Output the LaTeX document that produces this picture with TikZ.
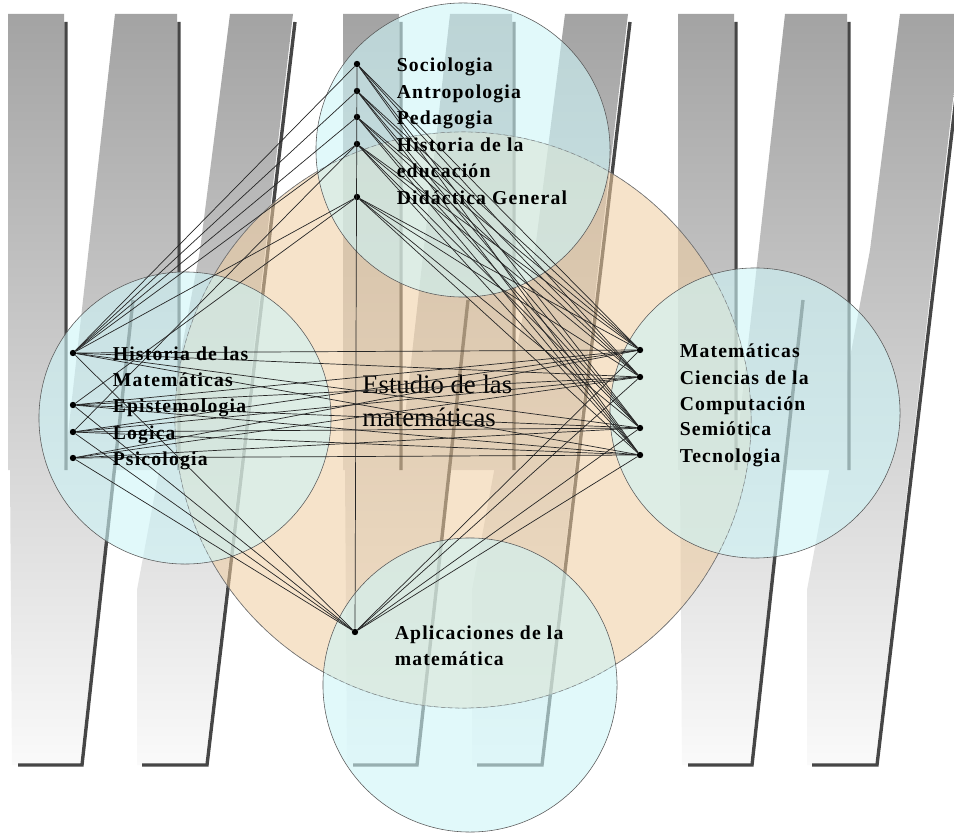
\documentclass[tikz,border=0pt]{standalone}
\usepackage{fontspec}
\setmainfont{Liberation Serif}
\newfontfamily\lblfont[LetterSpace=6]{Liberation Serif}
\usetikzlibrary{positioning}
\definecolor{peach}{RGB}{240,205,160}
\definecolor{aqua}{RGB}{205,245,248}
\definecolor{stripedark}{RGB}{70,70,70}
\tikzset{
  disc/.style={circle, draw=black!65, line width=0.4pt, fill=aqua, fill opacity=0.6, inner sep=0pt},
  dot/.style={circle, fill=black, inner sep=0pt, minimum size=0.16cm},
  lbl/.style={font=\lblfont\bfseries\fontsize{14pt}{18.5pt}\selectfont, inner sep=0pt, align=left, anchor=base west, yshift=-5pt},
  lbltwo/.style={lbl, yshift=-18.5pt},
  link/.style={line width=0.5pt, black!85},
  stripeline/.style={line width=2.4pt, stripedark, line join=miter}
}
\begin{document}
\begin{tikzpicture}[x=0.025cm, y=-0.025cm]
  \fill[white] (0,0) rectangle (954,833);
  \useasboundingbox (0,0) rectangle (954,833);
  \shade[top color=black!36, bottom color=black!2]
    (8,14) -- (64,14) -- (64,470) -- (8,470) -- cycle
    (115,14) -- (177,14) -- (177,470) -- (64,470) -- cycle
    (230,14) -- (293,14) -- (205,765) -- (137,765) -- (137,590) -- (200,250) -- cycle
    (10,470) -- (114,470) -- (80,765) -- (12,765) -- cycle
    (343,14) -- (399,14) -- (399,470) -- (343,470) -- cycle
    (450,14) -- (512,14) -- (512,470) -- (399,470) -- cycle
    (565,14) -- (628,14) -- (540,765) -- (472,765) -- (472,590) -- (535,250) -- cycle
    (345,470) -- (449,470) -- (415,765) -- (347,765) -- cycle
    (678,14) -- (734,14) -- (734,470) -- (678,470) -- cycle
    (785,14) -- (847,14) -- (847,470) -- (734,470) -- cycle
    (900,14) -- (963,14) -- (875,765) -- (807,765) -- (807,590) -- (870,250) -- cycle
    (680,470) -- (784,470) -- (750,765) -- (682,765) -- cycle;
  \draw[stripeline]
    (66,22) -- (66,470)
    (179,22) -- (179,470)
    (295,22) -- (207,765) -- (142,765)
    (133,300) -- (82,765) -- (18,765)
    (401,22) -- (401,470)
    (514,22) -- (514,470)
    (630,22) -- (542,765) -- (477,765)
    (468,300) -- (417,765) -- (353,765)
    (736,22) -- (736,470)
    (849,22) -- (849,470)
    (965,22) -- (877,765) -- (812,765)
    (803,300) -- (752,765) -- (688,765);
  \node[circle, draw=black!60, line width=0.4pt, fill=peach, fill opacity=0.55,
        inner sep=0pt, minimum size=14.4cm] (estudio) at (463,420) {};
  \node[disc, minimum size=7.35cm] (ctop) at (463,150) {};
  \node[disc, minimum size=7.3cm] (cleft) at (185,418) {};
  \node[disc, minimum size=7.25cm] (cright) at (755,413) {};
  \node[disc, minimum size=7.35cm] (cbot) at (470,685) {};
  \draw[densely dashed, black!50, line width=0.3pt] (estudio.center) circle[radius=7.2cm];
  \node[font=\fontsize{19pt}{23.4pt}\selectfont, align=left, anchor=base west, inner sep=0pt]
    (esttxt) at (362,426) {Estudio de las\\matemáticas};
  \node[dot] (soc) at (357,64) {};
  \node[dot] (antro) at (357,91) {};
  \node[dot] (peda) at (357,117) {};
  \node[dot] (histedu) at (357,144) {};
  \node[dot] (didac) at (357,197) {};
  \node[dot] (histmat) at (73,353) {};
  \node[dot] (epist) at (73,405) {};
  \node[dot] (logica) at (73,432) {};
  \node[dot] (psico) at (73,458) {};
  \node[dot] (mate) at (640,350) {};
  \node[dot] (cienc) at (640,377) {};
  \node[dot] (semio) at (640,428) {};
  \node[dot] (tecno) at (640,455) {};
  \node[dot] (aplic) at (355,632) {};
  \begin{scope}[link]
    \draw (soc) to (mate);
    \draw (soc) to (cienc);
    \draw (soc) to (semio);
    \draw (soc) to (tecno);
    \draw (antro) to (mate);
    \draw (antro) to (cienc);
    \draw (antro) to (semio);
    \draw (antro) to (tecno);
    \draw (peda) to (mate);
    \draw (peda) to (cienc);
    \draw (peda) to (semio);
    \draw (peda) to (tecno);
    \draw (histedu) to (mate);
    \draw (histedu) to (cienc);
    \draw (histedu) to (semio);
    \draw (histedu) to (tecno);
    \draw (didac) to (mate);
    \draw (didac) to (cienc);
    \draw (didac) to (semio);
    \draw (didac) to (tecno);
    \draw (soc) to (histmat);
    \draw (antro) to (histmat);
    \draw (peda) to (histmat);
    \draw (histedu) to (histmat);
    \draw (didac) to (histmat);
    \draw (histedu) to (logica);
    \draw (didac) to (epist);
    \draw (histmat) to (mate);
    \draw (histmat) to (cienc);
    \draw (histmat) to (semio);
    \draw (histmat) to (tecno);
    \draw (epist) to (mate);
    \draw (epist) to (cienc);
    \draw (epist) to (semio);
    \draw (epist) to (tecno);
    \draw (logica) to (mate);
    \draw (logica) to (cienc);
    \draw (logica) to (semio);
    \draw (logica) to (tecno);
    \draw (psico) to (mate);
    \draw (psico) to (cienc);
    \draw (psico) to (semio);
    \draw (psico) to (tecno);
    \draw (aplic) to (histmat);
    \draw (aplic) to (epist);
    \draw (aplic) to (logica);
    \draw (aplic) to (psico);
    \draw (aplic) to (mate);
    \draw (aplic) to (cienc);
    \draw (aplic) to (semio);
    \draw (aplic) to (tecno);
    \draw (aplic) to (soc);
  \end{scope}
  \node[right=0.9cm of soc, lbl] (socl) {Sociologia};
  \node[right=0.9cm of antro, lbl] (antrol) {Antropologia};
  \node[right=0.9cm of peda, lbl] (pedal) {Pedagogia};
  \node[right=0.9cm of histedu, lbltwo] (histedul) {Historia de la\\educación};
  \node[right=0.9cm of didac, lbl] (didacl) {Didáctica General};
  \node[right=0.9cm of histmat, lbltwo] (histmatl) {Historia de las\\Matemáticas};
  \node[right=0.9cm of epist, lbl] (epistl) {Epistemologia};
  \node[right=0.9cm of logica, lbl] (logical) {Logica};
  \node[right=0.9cm of psico, lbl] (psicol) {Psicologia};
  \node[right=0.9cm of mate, lbl] (matel) {Matemáticas};
  \node[right=0.9cm of cienc, lbltwo] (ciencl) {Ciencias de la\\Computación};
  \node[right=0.9cm of semio, lbl] (semiol) {Semiótica};
  \node[right=0.9cm of tecno, lbl] (tecnol) {Tecnologia};
  \node[right=0.9cm of aplic, lbltwo] (aplicl) {Aplicaciones de la\\matemática};
\end{tikzpicture}
\end{document}
